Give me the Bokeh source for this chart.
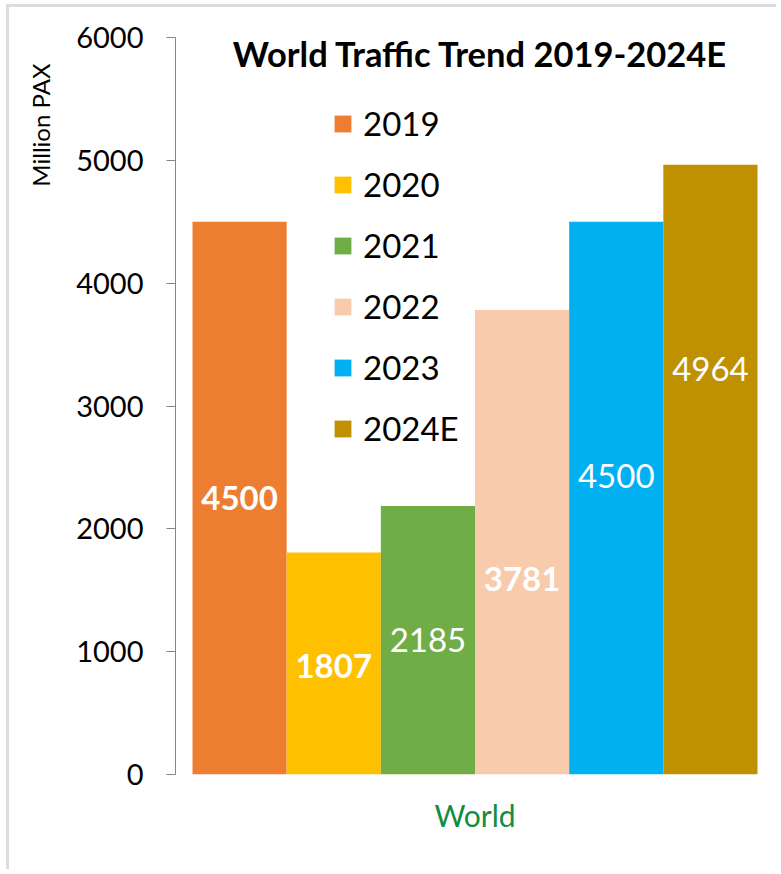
from bokeh.plotting import figure
from bokeh.models import Range1d, FixedTicker, Label, Legend, LegendItem, ColumnDataSource, Title
from bokeh.embed import file_html
from bokeh.resources import INLINE

# ---- data ----
years = ["2019", "2020", "2021", "2022", "2023", "2024E"]
pax = [4500, 1807, 2185, 3781, 4500, 4964]
value_labels = ["4500", "1807", "2185", "3781", "4500", "4964"]
y_ticks = [0, 1000, 2000, 3000, 4000, 5000, 6000]
category = "World"
title_text = "World Traffic Trend 2019-2024E"
y_title = "Million PAX"

# ---- styles ----
colors = ["#ED7D31", "#FFC000", "#70AD47", "#F8CBAD", "#00B0F0", "#BF9000"]
label_bold = [True, True, False, True, False, False]
label_pos_frac = [0.50, 0.49, 0.50, 0.42, 0.54, 0.665]
FONT = "Lato"

# page offsets of the canvas (margin + border drawn with CSS)
OX, OY = 9, 7
W, H = 770, 865
FL, FT, FR, FB = 175 - OX, 37 - OY, 770 - OX, 774 - OY  # frame edges in canvas pixels
p = figure(width=W, height=H, output_backend="svg", toolbar_location=None,
           x_range=Range1d(-0.6805, 5.638), y_range=Range1d(0, 6000),
           min_border_left=FL, min_border_right=W - FR, min_border_top=FT,
           min_border_bottom=H - FB)
p.styles = {"margin-left": "6px", "margin-top": "4px",
            "border-left": "3px solid #dcdcdc", "border-top": "3px solid #dcdcdc"}
p.grid.visible = False
p.outline_line_color = None
p.background_fill_color = "white"
p.border_fill_color = "white"

xs = list(range(len(years)))
src = ColumnDataSource(dict(x=xs, top=pax, color=colors))
bars = p.vbar(x="x", top="top", width=1.0, fill_color="color", line_color=None, source=src)

# value labels
for i, (v, t) in enumerate(zip(pax, value_labels)):
    p.add_layout(Label(x=xs[i], y=v * label_pos_frac[i], text=t,
                       text_font=FONT, text_font_size="33px",
                       text_font_style="bold" if label_bold[i] else "normal",
                       text_color="white", text_align="center", text_baseline="middle"))

# y axis
ya = p.yaxis[0]
ya.ticker = FixedTicker(ticks=y_ticks)
ya.axis_line_color = "#868686"
ya.major_tick_line_color = "#868686"
ya.major_tick_out = 9
ya.major_tick_in = 0
ya.minor_tick_line_color = None
ya.major_label_text_font = FONT
ya.major_label_text_font_size = "29px"
ya.major_label_text_color = "black"
ya.major_label_standoff = 23

# x axis
mid = (xs[0] + xs[-1]) / 2
xa = p.xaxis[0]
xa.ticker = FixedTicker(ticks=[mid])
xa.major_label_overrides = {mid: category}
xa.axis_line_color = None
xa.major_tick_line_color = None
xa.minor_tick_line_color = None
xa.major_label_text_font = FONT
xa.major_label_text_font_size = "30px"
xa.major_label_text_color = "#138C3F"
xa.major_label_standoff = 16

# title inside plot
p.add_layout(Label(x=305, y=721, x_units="screen", y_units="screen", text=title_text,
                   text_font=FONT, text_font_size="34.5px", text_font_style="bold",
                   text_color="black", text_align="center", text_baseline="middle"))
# y axis title (top-aligned, left of the axis)
p.add_layout(Title(text=y_title, align="right", vertical_align="top", offset=26, standoff=33,
                   text_font=FONT, text_font_size="24px", text_font_style="normal",
                   text_color="black"), "left")

# legend
items = [LegendItem(label=y, renderers=[bars], index=i) for i, y in enumerate(years)]
legend = Legend(items=items, location=(157, 326), orientation="vertical",
                glyph_width=21, glyph_height=21, label_height=40, spacing=21,
                padding=0, margin=0, label_standoff=10,
                label_text_font=FONT, label_text_font_size="33px",
                label_text_color="black", border_line_color=None,
                background_fill_alpha=0)
p.add_layout(legend)

open("out.html", "w").write(file_html(p, INLINE))
